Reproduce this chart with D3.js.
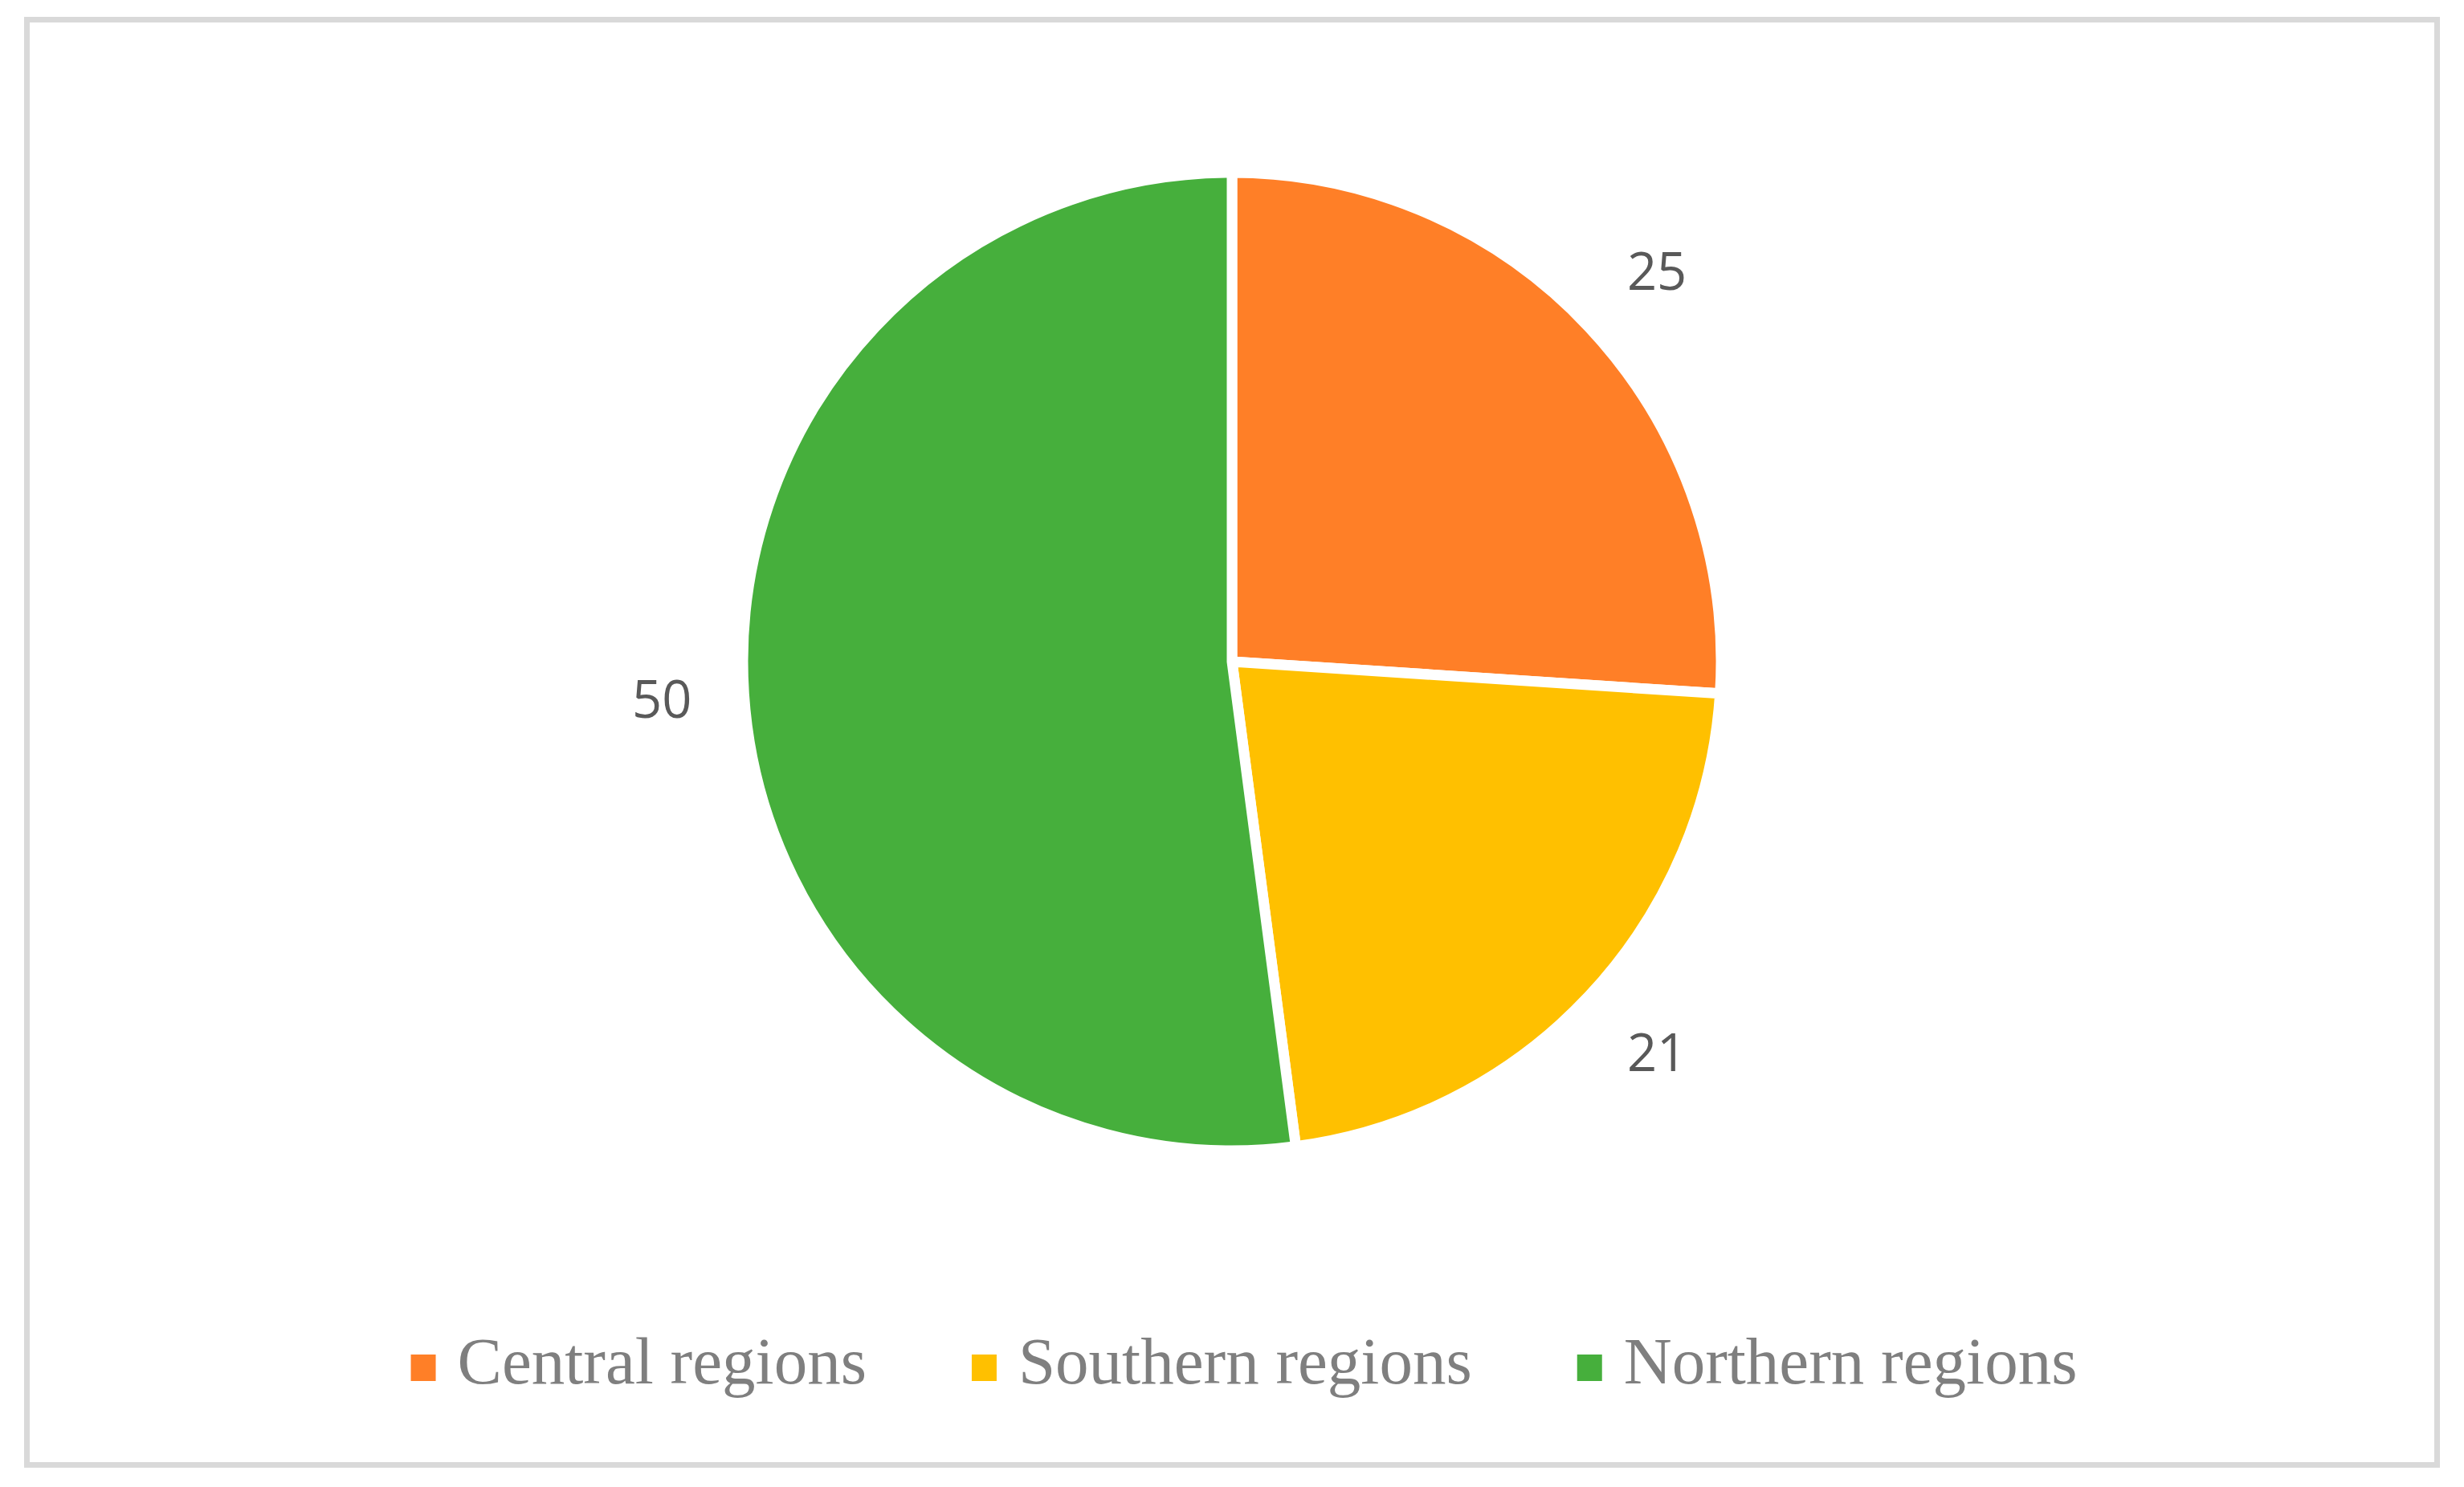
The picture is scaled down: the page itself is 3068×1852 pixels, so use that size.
<!DOCTYPE html>
<html>
<head>
<meta charset="utf-8">
<script src="https://cdn.jsdelivr.net/npm/d3@7"></script>
<style>
  html, body { margin: 0; padding: 0; background: #ffffff; }
  svg { display: block; }
</style>
</head>
<body>
<script>
const categories = ["Central regions", "Southern regions", "Northern regions"];
const values = [25, 21, 50];
const colors = ["#FF7F27", "#FFC000", "#46AF3C"];

const W = 3068, H = 1852;
const svg = d3.select("body").append("svg").attr("width", W).attr("height", H);

svg.append("rect").attr("width", W).attr("height", H).attr("fill", "#ffffff");
// chart border
svg.append("rect")
  .attr("x", 33.5).attr("y", 24.5)
  .attr("width", 3001).attr("height", 1800)
  .attr("fill", "none").attr("stroke", "#d9d9d9").attr("stroke-width", 7);

const cx = 1534, cy = 824, R = 609;
const data = categories.map((c, i) => ({ cat: c, value: values[i], color: colors[i] }));

const pie = d3.pie().value(d => d.value).sort(null);
const arcs = pie(data);
const arc = d3.arc().innerRadius(0).outerRadius(R);
// label layout: near edge of the text sits at rx horizontally, centre at ry vertically
const rx = 674, ry = 712;
const midA = d => (d.startAngle + d.endAngle) / 2;

const g = svg.append("g").attr("transform", `translate(${cx},${cy})`);
g.selectAll("path.slice").data(arcs).enter().append("path")
  .attr("class", "slice")
  .attr("d", arc)
  .attr("fill", d => d.data.color)
  .attr("stroke", "#ffffff")
  .attr("stroke-width", 13)
  .attr("stroke-linejoin", "miter");

g.selectAll("text.lbl").data(arcs).enter().append("text")
  .attr("class", "lbl")
  .attr("x", d => rx * Math.sin(midA(d)))
  .attr("y", d => -ry * Math.cos(midA(d)))
  .attr("text-anchor", d => Math.sin(midA(d)) >= 0 ? "start" : "end")
  .attr("dy", "0.36em")
  .attr("font-family", "'Open Sans', sans-serif")
  .attr("font-size", 65)
  .attr("fill", "#595959")
  .text(d => d.data.value);

// legend
const legend = svg.append("g");
const items = legend.selectAll("g.item").data(data).enter().append("g").attr("class", "item");
items.append("rect").attr("width", 31).attr("height", 33).attr("fill", d => d.color);
items.append("text")
  .attr("x", 58).attr("y", 36)
  .attr("font-family", "'Liberation Serif', 'Times New Roman', serif")
  .attr("font-size", 83)
  .attr("fill", "#7f7f7f")
  .text(d => d.cat);

let widths = [];
items.each(function() { widths.push(58 + d3.select(this).select("text").node().getComputedTextLength()); });
const spacing = 131;
const total = d3.sum(widths) + spacing * (widths.length - 1);
let x0 = 1549 - total / 2;
items.attr("transform", (d, i) => {
  const t = `translate(${x0},1687)`;
  x0 += widths[i] + spacing;
  return t;
});
</script>
</body>
</html>
